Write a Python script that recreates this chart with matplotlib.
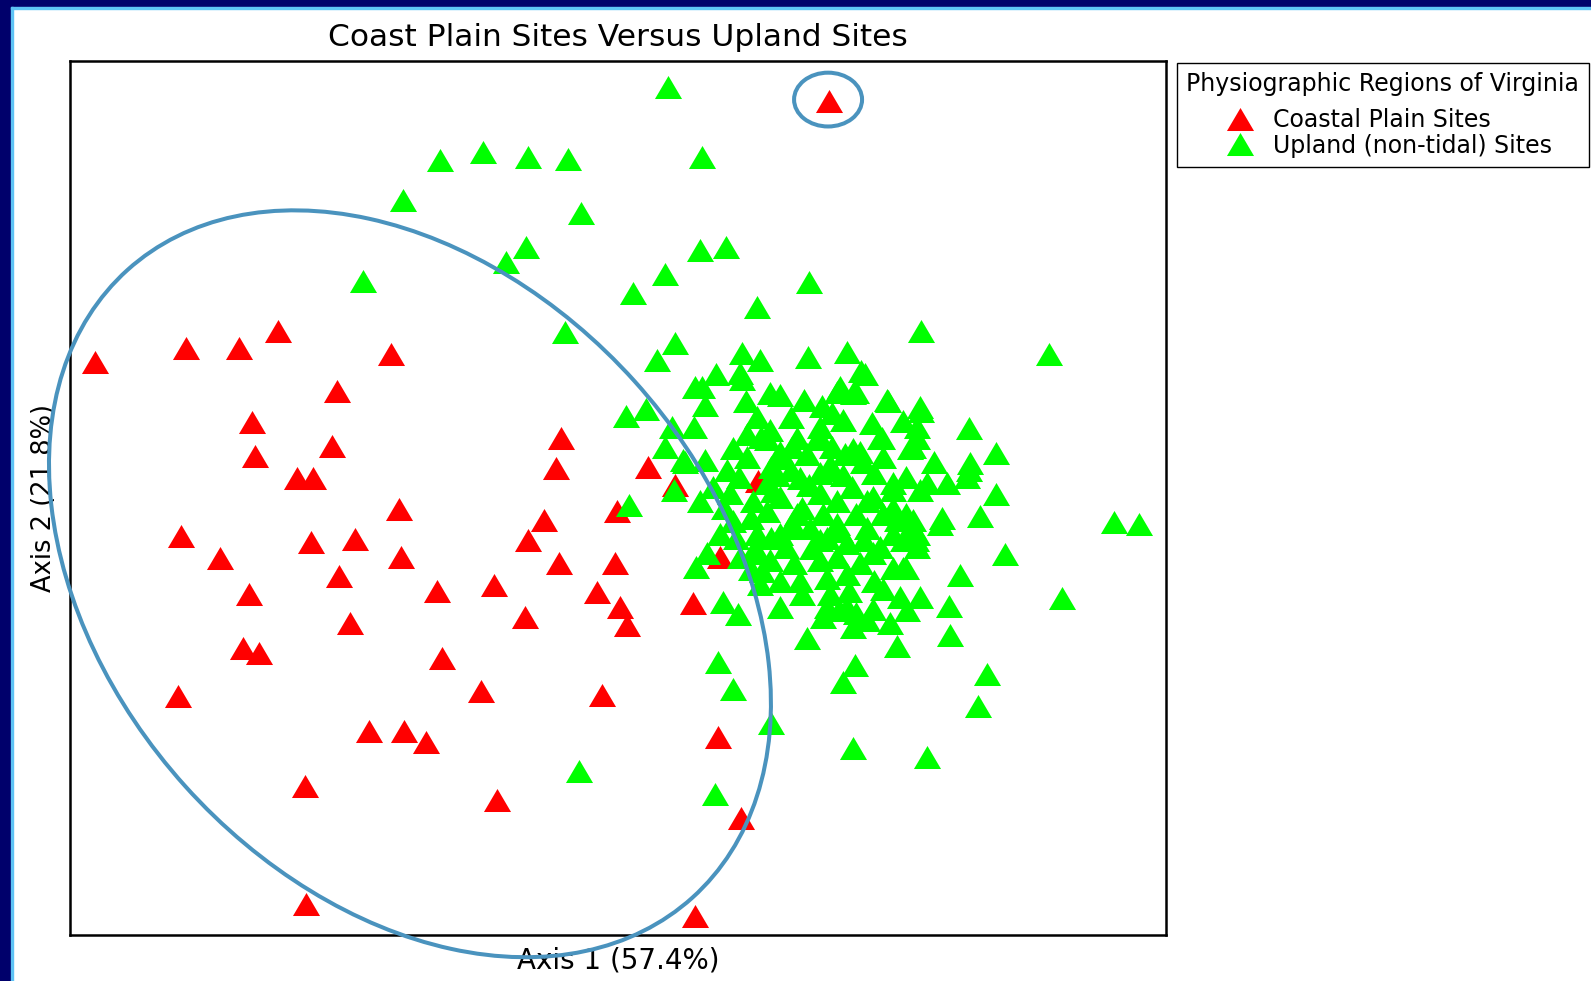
import numpy as np
import matplotlib
matplotlib.use("Agg")
import matplotlib.pyplot as plt
from matplotlib.patches import Ellipse, Rectangle

plt.rcParams['font.family'] = ['DejaVu Sans']

TITLE = "Coast Plain Sites Versus Upland Sites"
X_LABEL = "Axis 1 (57.4%)"
Y_LABEL = "Axis 2 (21.8%)"
LEGEND_TITLE = "Physiographic Regions of Virginia"
SERIES_LABELS = ["Coastal Plain Sites", "Upland (non-tidal) Sites"]

# site scores (axis 1, axis 2), plot units
coastal = [
    (817, 99), (94, 357), (183, 343), (236, 343), (274, 326), (385, 349),
    (332, 385), (248, 416), (251, 449), (327, 439), (293, 471), (308, 471),
    (553, 431), (548, 461), (639, 460), (665, 478), (393, 501), (536, 512),
    (608, 503), (520, 532), (178, 528), (217, 550), (306, 534), (350, 531),
    (395, 549), (334, 567), (551, 555), (606, 555), (245, 585), (431, 582),
    (487, 576), (588, 583), (611, 598), (618, 616), (517, 608), (345, 614),
    (683, 594), (239, 638), (255, 643), (436, 648), (474, 681), (593, 685),
    (175, 686), (364, 720), (398, 720), (420, 731), (708, 726), (301, 774),
    (490, 788), (730, 806), (302, 890), (685, 902), (747, 474), (710, 549),
]

upland = [
    # scattered sites
    (658, 86), (692, 155), (434, 158), (476, 150), (520, 155), (560, 157),
    (397, 197), (573, 210), (518, 243), (499, 258), (690, 246), (715, 243),
    (358, 277), (655, 270), (624, 289), (797, 278), (746, 302), (557, 327),
    (908, 326), (1034, 349), (665, 338), (647, 355), (1098, 514), (1122, 516),
    (1047, 589), (990, 546), (973, 664), (964, 695), (913, 746), (841, 737),
    (831, 672), (843, 655), (760, 712), (722, 679), (708, 652), (571, 759),
    (705, 782), (617, 410), (637, 403), (655, 440), (662, 421), (675, 455),
    (685, 381), (620, 497), (664, 483), (684, 421), (686, 558), (712, 593),
    (727, 605), (795, 628), (884, 636), (936, 625), (935, 597), (946, 566),
    (955, 422), (981, 446), (955, 463), (981, 487), (966, 508), (926, 516),
    (875, 395), (908, 405), (852, 368),
    # main cloud
    (731, 348), (749, 355), (796, 352), (835, 347), (848, 365), (706, 368),
    (729, 367), (692, 381), (731, 373), (759, 387), (769, 389), (792, 394),
    (828, 381), (825, 386), (844, 386), (841, 387), (874, 394), (695, 399),
    (746, 411), (779, 411), (808, 421), (820, 407), (831, 414), (907, 401),
    (859, 417), (904, 421), (869, 431), (736, 427), (759, 424), (756, 432),
    (785, 431), (805, 432), (808, 431), (904, 431), (867, 431), (897, 441),
    (841, 442), (673, 453), (695, 453), (722, 441), (736, 450), (769, 445),
    (772, 451), (795, 447), (818, 458), (833, 447), (847, 445), (900, 440),
    (956, 456), (716, 463), (728, 470), (766, 468), (779, 463), (788, 471),
    (808, 466), (821, 463), (831, 468), (861, 466), (880, 476), (893, 470),
    (913, 476), (933, 476), (953, 470), (703, 480), (756, 476), (762, 484),
    (797, 478), (840, 480), (719, 486), (742, 493), (769, 490), (808, 486),
    (825, 493), (854, 493), (880, 483), (907, 483), (690, 493), (713, 500),
    (756, 503), (785, 506), (811, 506), (844, 506), (870, 506), (893, 506),
    (928, 510), (722, 513), (798, 520), (825, 516), (854, 520), (884, 512),
    (900, 512), (900, 520), (710, 526), (746, 526), (769, 526), (779, 520),
    (828, 523), (880, 526), (904, 526), (903, 532), (697, 545), (729, 549),
    (744, 540), (746, 545), (775, 539), (808, 532), (835, 535), (851, 532),
    (867, 539), (890, 532), (904, 539), (759, 552), (751, 562), (782, 555),
    (808, 552), (825, 549), (847, 555), (880, 559), (890, 559), (893, 559),
    (749, 575), (769, 572), (788, 572), (815, 569), (835, 565), (861, 572),
    (818, 585), (837, 582), (769, 598), (815, 598), (827, 601), (835, 598),
    (844, 604), (887, 588), (894, 601), (907, 588), (877, 614), (854, 611),
    (841, 618), (811, 608),
    (750, 430), (760, 460), (790, 500), (815, 530), (860, 545), (870, 580),
    (790, 585), (800, 540), (850, 455), (740, 510), (725, 530), (880, 500),
    (860, 490), (820, 440), (780, 440), (870, 450), (780, 515), (860, 600),
    (740, 560), (760, 530), (735, 395), (810, 400), (890, 415), (920, 455),
]

x_range = (69, 1149)
y_range = (921, 60)   # axis 2 runs downwards in plot units

# groupings circled by hand on the slide
main_group = dict(center=(404, 575), width=832, height=596, angle=48)
outlier_ring = dict(center=(816, 98), width=67, height=53, angle=0)

RED = "#ff0000"
GREEN = "#00ff00"
RING = "#4a93be"
NAVY = "#00006b"
LIGHT = "#5ec3f5"

W, H = 1591, 981
fig = plt.figure(figsize=(W / 100, H / 100), dpi=100)
fig.patch.set_facecolor("white")

ax = fig.add_axes([70 / W, 1 - 935 / H, (1166 - 70) / W, (935 - 61) / H])

tri = [(-1, -0.85), (1, -0.85), (0, 0.85)]
c = np.array(coastal)
u = np.array(upland)
ax.plot(c[:, 0], c[:, 1], linestyle="none", marker=tri, markersize=19.5,
        color=RED, markeredgewidth=0, label=SERIES_LABELS[0])
ax.plot(u[:, 0], u[:, 1], linestyle="none", marker=tri, markersize=19.5,
        color=GREEN, markeredgewidth=0, label=SERIES_LABELS[1])

ax.set_xlim(*x_range)
ax.set_ylim(*y_range)
ax.set_xticks([])
ax.set_yticks([])
for sp in ax.spines.values():
    sp.set_linewidth(1.8)
    sp.set_color("black")

ax.set_title(TITLE, fontsize=22.5, pad=11)
ax.set_xlabel(X_LABEL, fontsize=20, labelpad=8)
ax.set_ylabel(Y_LABEL, fontsize=18.5, labelpad=9)

for g in (main_group, outlier_ring):
    e = Ellipse(g["center"], g["width"], g["height"], angle=g["angle"],
                fill=False, edgecolor=RING, linewidth=2.9, clip_on=False, zorder=10)
    ax.add_patch(e)

# trailing newline + tight line spacing leaves a small gap under the title
leg = ax.legend(loc="upper left", bbox_to_anchor=(1177 / W, 1 - 63 / H),
                bbox_transform=fig.transFigure, title=LEGEND_TITLE + "\n",
                alignment="left", fancybox=False, framealpha=1,
                edgecolor="black", fontsize=17, title_fontsize=17,
                handlelength=4.5, handletextpad=-0.83, labelspacing=0.05,
                borderpad=0.4, borderaxespad=0)
leg.get_title().set_linespacing(0.3)
leg.get_frame().set_linewidth(1.0)

# slide frame, top and left
fig.add_artist(Rectangle((0, 0), 11 / W, 1, transform=fig.transFigure,
                         color=NAVY, zorder=20))
fig.add_artist(Rectangle((0, 1 - 7 / H), 1, 7 / H, transform=fig.transFigure,
                         color=NAVY, zorder=20))
fig.add_artist(Rectangle((11 / W, 0), 2 / W, 1 - 7 / H, transform=fig.transFigure,
                         color=LIGHT, zorder=20))
fig.add_artist(Rectangle((11 / W, 1 - 9 / H), 1, 2 / H, transform=fig.transFigure,
                         color=LIGHT, zorder=20))

fig.savefig("out.png", dpi=100)
